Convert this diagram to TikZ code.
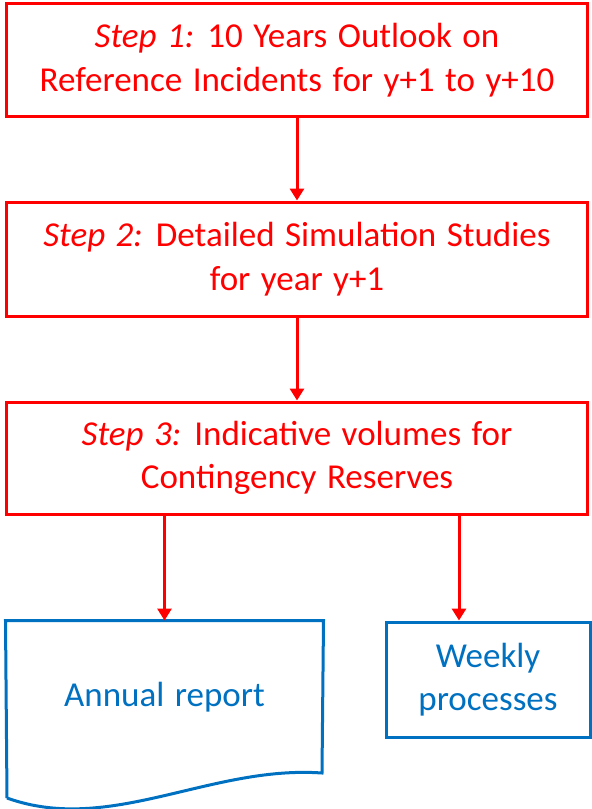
\documentclass[tikz,border=0pt]{standalone}
\usepackage{fontspec}
\setmainfont{Carlito}
\usetikzlibrary{arrows.meta}
\definecolor{stepred}{HTML}{FF0000}
\definecolor{outblue}{HTML}{0070C0}
\newcommand\boxtextfont{\fontsize{35}{43.5}\selectfont\spaceskip=0.3em plus 0pt\relax}
\begin{document}
\begin{tikzpicture}[x=1pt,y=-1pt,
  stepbox/.style={draw=stepred,line width=3pt,text=stepred,rectangle,
    align=center,font=\boxtextfont,inner sep=0pt},
  outbox/.style={draw=outblue,line width=3pt,text=outblue,rectangle,
    align=center,font=\boxtextfont,inner sep=0pt},
  flow/.style={draw=stepred,line width=3pt,-{Triangle[length=12pt,width=14pt]}}]
\useasboundingbox (0,0) rectangle (592,809);

\node[stepbox,minimum width=581pt,minimum height=113pt] (s1) at (297,60)
  {\textit{Step 1:} 10 Years Outlook on\\Reference Incidents for y+1 to y+10};
\node[stepbox,minimum width=581pt,minimum height=114pt] (s2) at (297,259)
  {\textit{Step 2:} Detailed Simulation Studies\\for year y+1};
\node[stepbox,minimum width=581pt,minimum height=112pt] (s3) at (297,458)
  {\textit{Step 3:} Indicative volumes for\\Contingency Reserves};

% document shape with wavy bottom edge
\node[outbox,draw=none,minimum width=315pt,minimum height=151pt] (rep) at (164.5,697.5)
  {Annual report};
\draw[outblue,line width=3pt,line join=miter]
  (7,798) -- (rep.north west) -- (rep.north east) -- (322,773)
  .. controls (210,765) and (110,835) .. (7,798);

\node[outbox,minimum width=204pt,minimum height=115pt] (wk) at (488,679.5)
  {Weekly\\processes};
\coordinate (wkin) at ([xshift=-29pt]wk.north);

\draw[flow] (s1.south) -- (s2.north);
\draw[flow] (s2.south) -- (s3.north);
\draw[flow] (s3.south -| rep.north) -- (rep.north);
\draw[flow] (s3.south -| wkin) -- (wkin);
\end{tikzpicture}
\end{document}
